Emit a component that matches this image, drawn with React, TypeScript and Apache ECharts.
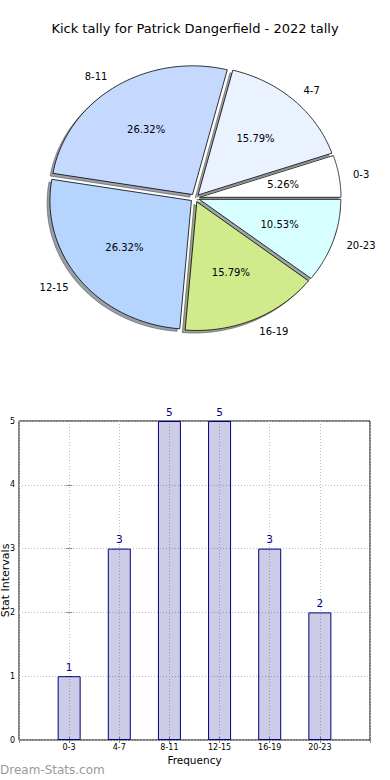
import React, { useEffect, useRef } from "react";
import * as echarts from "echarts";

const TITLE = "Kick tally for Patrick Dangerfield - 2022 tally";
const CATEGORIES = ["0-3", "4-7", "8-11", "12-15", "16-19", "20-23"];
const VALUES = [1, 3, 5, 5, 3, 2];
const PIE_COLORS = ["#ffffff", "#eaf1ff", "#c5d9ff", "#b5d5ff", "#d0ea8c", "#d8ffff"];
const Y_TICKS = [0, 1, 2, 3, 4, 5];
const X_NAME = "Frequency";
const Y_NAME = "Stat Intervals";
const WATERMARK = "Dream-Stats.com";

// pie layout (pixels)
const CX = 195;
const CY = 198;
const RX = 141.5;
const RY = 128.7;
const EXPLODE = 0.032;
const SHADOW_OFF = 0.02;
const LABEL_DIST = 1.1;
const PCT_DIST = 0.6;
const FONT = '"DejaVu Sans", Verdana, sans-serif';

const TOTAL = VALUES.reduce((a, b) => a + b, 0);

function sliceAngles(i: number) {
  let before = 0;
  for (let k = 0; k < i; k++) before += VALUES[k];
  const start = (before / TOTAL) * 2 * Math.PI;
  const end = ((before + VALUES[i]) / TOTAL) * 2 * Math.PI;
  return { start, end, mid: (start + end) / 2 };
}

function wedgePoints(i: number, dx: number, dy: number) {
  const { start, end, mid } = sliceAngles(i);
  const ox = CX + EXPLODE * RX * Math.cos(mid) + dx;
  const oy = CY - EXPLODE * RY * Math.sin(mid) + dy;
  const pts: number[][] = [[ox, oy]];
  const n = 80;
  for (let k = 0; k <= n; k++) {
    const a = start + ((end - start) * k) / n;
    pts.push([ox + RX * Math.cos(a), oy - RY * Math.sin(a)]);
  }
  return pts;
}

function shadowColor(hex: string) {
  const r = parseInt(hex.slice(1, 3), 16);
  const g = parseInt(hex.slice(3, 5), 16);
  const b = parseInt(hex.slice(5, 7), 16);
  return `rgba(${Math.round(r * 0.3)},${Math.round(g * 0.3)},${Math.round(b * 0.3)},0.5)`;
}

export default function App() {
  const ref = useRef<HTMLDivElement>(null);
  useEffect(() => {
    if (!ref.current) return;
    const chart = echarts.init(ref.current, undefined, { renderer: "svg" });
    const option: any = {
      animation: false,
      title: {
        text: TITLE,
        left: "center",
        top: 17,
        textStyle: { fontSize: 13, fontWeight: "normal", color: "#000", fontFamily: FONT },
      },
      grid: {
        left: 19,
        right: 20,
        top: 421,
        bottom: 40,
        show: true,
        borderColor: "#000",
        borderWidth: 1,
        backgroundColor: "transparent",
        outerBoundsMode: "none",
        containLabel: false,
      },
      xAxis: [
        {
          type: "value",
          min: -1,
          max: 6,
          interval: 1,
          position: "bottom",
          name: X_NAME,
          nameLocation: "middle",
          nameGap: 14,
          nameTextStyle: { fontSize: 10.5, color: "#000", fontFamily: FONT },
          axisLine: { show: false },
          axisTick: { show: true, inside: true, length: 3, lineStyle: { color: "#888" } },
          axisLabel: {
            fontSize: 8,
            color: "#000",
            fontFamily: FONT,
            margin: 3,
            formatter: (v: number) => CATEGORIES[v] ?? "",
          },
          splitLine: { show: true, lineStyle: { type: [1, 2], color: "#bdbdbd", width: 1 } },
        },
        {
          type: "value",
          min: -1,
          max: 6,
          interval: 1,
          position: "top",
          axisLine: { show: false },
          axisTick: { show: true, inside: true, length: 3, lineStyle: { color: "#888" } },
          axisLabel: { show: false },
          splitLine: { show: false },
        },
      ],
      yAxis: [
        {
          type: "value",
          min: 0,
          max: 5,
          interval: 1,
          position: "left",
          name: Y_NAME,
          nameLocation: "middle",
          nameGap: 8,
          nameMoveOverlap: false,
          nameTextStyle: { fontSize: 11, color: "#000", fontFamily: FONT },
          axisLine: { show: false },
          axisTick: { show: true, inside: true, length: 3, lineStyle: { color: "#888" } },
          axisLabel: {
            fontSize: 8,
            color: "#000",
            fontFamily: FONT,
            margin: 4,
            formatter: (v: number) => (Y_TICKS.includes(v) ? String(v) : ""),
          },
          splitLine: { show: true, lineStyle: { type: [1, 2], color: "#bdbdbd", width: 1 } },
        },
        {
          type: "value",
          min: 0,
          max: 5,
          interval: 1,
          position: "right",
          axisLine: { show: false },
          axisTick: { show: true, inside: true, length: 3, lineStyle: { color: "#888" } },
          axisLabel: { show: false },
          splitLine: { show: false },
        },
      ],
      graphic: [
        {
          type: "text",
          left: 0,
          top: 764,
          style: { text: WATERMARK, fill: "#9a9a9a", font: `12px ${FONT}` },
        },
      ],
      series: [
        {
          type: "custom",
          coordinateSystem: "none",
          z: 1,
          silent: true,
          data: VALUES,
          renderItem: (params: any) => {
            const i = params.dataIndex;
            const c = shadowColor(PIE_COLORS[i]);
            return {
              type: "polygon",
              shape: { points: wedgePoints(i, -SHADOW_OFF * RX, SHADOW_OFF * RY) },
              style: { fill: c, stroke: c, lineWidth: 1 },
            };
          },
        },
        {
          type: "custom",
          coordinateSystem: "none",
          z: 2,
          silent: true,
          data: VALUES,
          renderItem: (params: any) => {
            const i = params.dataIndex;
            const { mid } = sliceAngles(i);
            const cos = Math.cos(mid);
            const sin = Math.sin(mid);
            const lx = CX + (EXPLODE + LABEL_DIST) * RX * cos;
            const ly = CY - (EXPLODE + LABEL_DIST) * RY * sin;
            const px = CX + (EXPLODE + PCT_DIST) * RX * cos;
            const py = CY - (EXPLODE + PCT_DIST) * RY * sin;
            const pct = ((VALUES[i] / TOTAL) * 100).toFixed(2) + "%";
            return {
              type: "group",
              children: [
                {
                  type: "polygon",
                  shape: { points: wedgePoints(i, 0, 0) },
                  style: { fill: PIE_COLORS[i], stroke: "#000", lineWidth: 0.8, lineJoin: "miter" },
                },
                {
                  type: "text",
                  style: {
                    text: CATEGORIES[i],
                    x: lx,
                    y: ly,
                    align: cos > 0 ? "left" : "right",
                    verticalAlign: "middle",
                    fill: "#000",
                    font: `10px ${FONT}`,
                  },
                },
                {
                  type: "text",
                  style: {
                    text: pct,
                    x: px,
                    y: py,
                    align: "center",
                    verticalAlign: "middle",
                    fill: "#000",
                    font: `10px ${FONT}`,
                  },
                },
              ],
            };
          },
        },
        {
          type: "bar",
          xAxisIndex: 0,
          yAxisIndex: 0,
          barWidth: 23,
          data: VALUES.map((v, i) => [i, v]),
          itemStyle: { color: "rgba(0,0,128,0.2)", borderColor: "#000080", borderWidth: 1 },
          label: {
            show: true,
            position: "top",
            distance: 4,
            color: "#00008b",
            fontSize: 10.5,
            fontFamily: FONT,
            formatter: (p: any) => String(p.value[1]),
          },
          z: 3,
        },
      ],
    };
    chart.setOption(option);
    return () => chart.dispose();
  }, []);
  return (
    <div
      ref={ref}
      style={{ position: "absolute", left: 0, top: 0, width: 390, height: 780, background: "#fff" }}
    />
  );
}
